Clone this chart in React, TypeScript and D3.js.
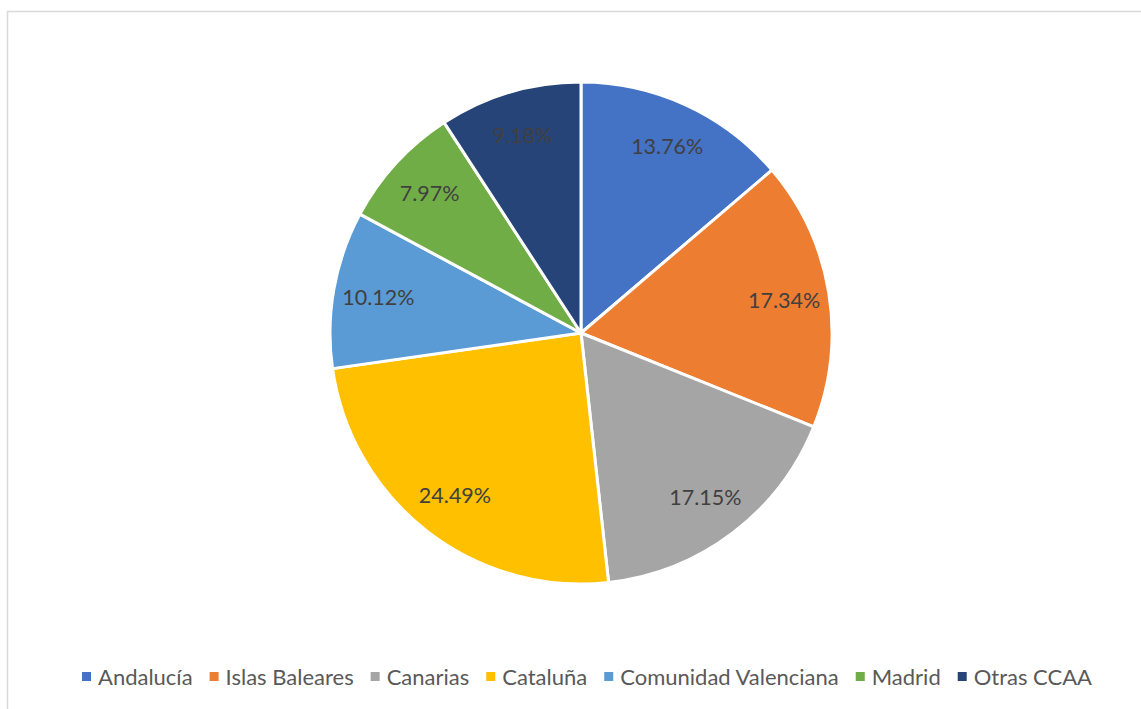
import React, { useEffect, useRef } from "react";
import * as d3 from "d3";

const categories = ["Andalucía", "Islas Baleares", "Canarias", "Cataluña", "Comunidad Valenciana", "Madrid", "Otras CCAA"];
const values = [13.76, 17.34, 17.15, 24.49, 10.12, 7.97, 9.18];
const colors = ["#4472C4", "#ED7D31", "#A5A5A5", "#FFC000", "#5B9BD5", "#70AD47", "#264478"];

export default function App() {
  const ref = useRef<SVGSVGElement>(null);
  useEffect(() => {
    const svg = d3.select(ref.current);
    svg.selectAll("*").remove();
    const W = 1141, H = 709;
    const font = "Lato, 'Open Sans', sans-serif";
    svg.append("rect").attr("x", 0).attr("y", 0).attr("width", W).attr("height", H).attr("fill", "#fff");
    svg.append("rect").attr("x", 7.5).attr("y", 11.5).attr("width", W + 20).attr("height", H + 20)
      .attr("fill", "none").attr("stroke", "#d9d9d9").attr("stroke-width", 1.5);

    const cx = 581, cy = 333, r = 251;
    const data = categories.map((c, i) => ({ c, v: values[i], color: colors[i] }));
    const pie = d3.pie<any>().value((d) => d.v).sort(null);
    const arcs = pie(data);
    const arc = d3.arc<any>().innerRadius(0).outerRadius(r);
    const labelArc = d3.arc<any>().innerRadius(r * 0.82).outerRadius(r * 0.82);
    const g = svg.append("g").attr("transform", `translate(${cx},${cy})`);
    g.selectAll("path").data(arcs).enter().append("path")
      .attr("d", arc).attr("fill", (d) => d.data.color)
      .attr("stroke", "#fff").attr("stroke-width", 3).attr("stroke-linejoin", "round");
    g.selectAll("text").data(arcs).enter().append("text")
      .attr("transform", (d) => `translate(${labelArc.centroid(d)})`)
      .attr("text-anchor", "middle").attr("dy", "0.36em")
      .attr("font-family", font).attr("font-size", 21.5).attr("fill", "#404040")
      .text((d) => d.data.v.toFixed(2) + "%");

    // legend
    const lg = svg.append("g");
    const items = lg.selectAll("g").data(data).enter().append("g");
    items.append("rect").attr("width", 9).attr("height", 9).attr("y", -13).attr("fill", (d) => d.color);
    items.append("text").attr("x", 16).attr("font-family", font).attr("font-size", 22).attr("fill", "#595959").text((d) => d.c);
    let x = 0;
    const gap = 17;
    items.each(function () {
      const t = d3.select(this).select("text").node() as SVGTextElement;
      const w = 16 + t.getComputedTextLength();
      d3.select(this).attr("transform", `translate(${x},0)`);
      x += w + gap;
    });
    const total = x - gap;
    lg.attr("transform", `translate(${(82 + 1092) / 2 - total / 2},685)`);
  }, []);
  return <svg ref={ref} width={1141} height={709} style={{ position: "absolute", left: 0, top: 0 }} />;
}
